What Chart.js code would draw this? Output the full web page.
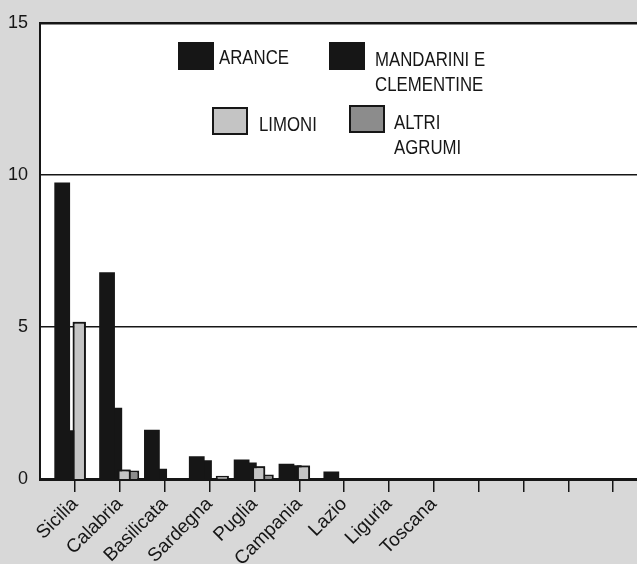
<!DOCTYPE html>
<html>
<head>
<meta charset="utf-8">
<script src="https://cdn.jsdelivr.net/npm/chart.js@4"></script>
<style>
  body { margin: 0; background: #d8d8d8; }
  #wrap { position: relative; width: 637px; height: 564px; }
  .lg-box { position: absolute; width: 36px; height: 28px; box-sizing: border-box; }
  .lg-text {
    position: absolute;
    font-family: 'Liberation Sans', Arial, sans-serif;
    font-size: 21px; line-height: 25px; color: #161616; white-space: pre;
    transform: scaleX(0.8); transform-origin: left top;
  }
</style>
</head>
<body>
<div id="wrap">
  <canvas id="chart" width="637" height="564"></canvas>
  <div id="legend"></div>
</div>
<script>
// Data (axis 0-15)
const categories = ['Sicilia', 'Calabria', 'Basilicata', 'Sardegna', 'Puglia', 'Campania', 'Lazio', 'Liguria', 'Toscana', '', '', '', ''];
const seriesNames = ['ARANCE', 'MANDARINI E\nCLEMENTINE', 'LIMONI', 'ALTRI\nAGRUMI'];
const arance    = [9.75, 6.8, 1.62, 0.75, 0.64, 0.5, 0.25, 0, 0];
const mandarini = [1.6, 2.34, 0.34, 0.62, 0.54, 0.45, 0, 0, 0];
const limoni    = [5.17, 0.31, 0, 0, 0.42, 0.44, 0, 0, 0];
const altri     = [0, 0.28, 0, 0.11, 0.15, 0, 0, 0, 0];
const yTicks = [0, 5, 10, 15];

const ink = '#161616';
const fills = [ink, ink, '#c4c4c4', '#8c8c8c'];
const borders = [0, 0, 2, 2];

// legend layout (box top-left, text top-left)
const legendPos = [
    { box: [178, 42], text: [219, 44] },
    { box: [329, 42], text: [375, 46] },
    { box: [212, 107], text: [259, 111] },
    { box: [349, 105], text: [394, 109] }
];

function toPoints(values) {
    return values.map((v, i) => ({ x: i, y: v }));
}

// white plot area on the grey page
const plotBackground = {
    id: 'plotBackground',
    beforeDraw(chart) {
        const { ctx, chartArea: a } = chart;
        ctx.save();
        ctx.fillStyle = '#ffffff';
        ctx.fillRect(a.left, a.top, a.right - a.left, a.bottom - a.top);
        ctx.restore();
    }
};

// limoni bars sit in front of the neighbouring bars
const limoniOnTop = {
    id: 'limoniOnTop',
    afterDatasetsDraw(chart) {
        const { ctx, chartArea: a } = chart;
        ctx.save();
        ctx.beginPath();
        ctx.rect(a.left, a.top, a.right - a.left, a.bottom - a.top);
        ctx.clip();
        chart.getDatasetMeta(2).data.forEach(bar => bar.draw(ctx));
        ctx.restore();
    }
};

const seriesValues = [arance, mandarini, limoni, altri];

new Chart(document.getElementById('chart'), {
    type: 'bar',
    data: {
        datasets: seriesValues.map((vals, i) => ({
            label: seriesNames[i],
            data: toPoints(vals),
            backgroundColor: fills[i],
            borderColor: ink,
            borderWidth: borders[i],
            categoryPercentage: 0.76,
            barPercentage: i === 0 ? 1.85 : 1.55
        }))
    },
    options: {
        responsive: false,
        devicePixelRatio: 1,
        animation: false,
        layout: { padding: { top: 21, right: 0, bottom: 0, left: 0 } },
        plugins: {
            legend: { display: false },
            tooltip: { enabled: false }
        },
        scales: {
            x: {
                type: 'linear',
                min: -0.78,
                max: 12.53,
                offset: false,
                afterBuildTicks: s => { s.ticks = categories.map((c, i) => ({ value: i })); },
                afterFit: s => { s.height = 85; },
                grid: {
                    offset: false,
                    drawOnChartArea: false,
                    drawTicks: true,
                    tickLength: 13,
                    color: ink,
                    lineWidth: 1.5
                },
                border: { display: true, color: ink, width: 3 },
                ticks: {
                    autoSkip: false,
                    includeBounds: false,
                    minRotation: 45,
                    maxRotation: 45,
                    padding: 1,
                    color: ink,
                    font: { family: "'Liberation Sans', Arial, sans-serif", size: 19 },
                    callback: v => categories[v] ?? ''
                }
            },
            y: {
                min: 0,
                max: 15,
                afterBuildTicks: s => { s.ticks = yTicks.map(v => ({ value: v })); },
                afterFit: s => { s.width = 40; },
                grid: {
                    color: ink,
                    lineWidth: c => c.tick.value === 15 ? 2.5 : (c.tick.value === 0 ? 0 : 1.5),
                    drawTicks: false
                },
                border: { display: true, color: ink, width: 2 },
                ticks: {
                    padding: 12,
                    color: ink,
                    font: { family: "'Liberation Sans', Arial, sans-serif", size: 18 }
                }
            }
        }
    },
    plugins: [plotBackground, limoniOnTop]
});

// legend drawn as html over the plot
const legend = document.getElementById('legend');
seriesNames.forEach((name, i) => {
    const box = document.createElement('div');
    box.className = 'lg-box';
    box.style.left = legendPos[i].box[0] + 'px';
    box.style.top = legendPos[i].box[1] + 'px';
    box.style.background = fills[i];
    box.style.border = (borders[i] || 1) + 'px solid ' + ink;
    legend.appendChild(box);

    const txt = document.createElement('div');
    txt.className = 'lg-text';
    txt.style.left = legendPos[i].text[0] + 'px';
    txt.style.top = legendPos[i].text[1] + 'px';
    txt.textContent = name;
    legend.appendChild(txt);
});
</script>
</body>
</html>
